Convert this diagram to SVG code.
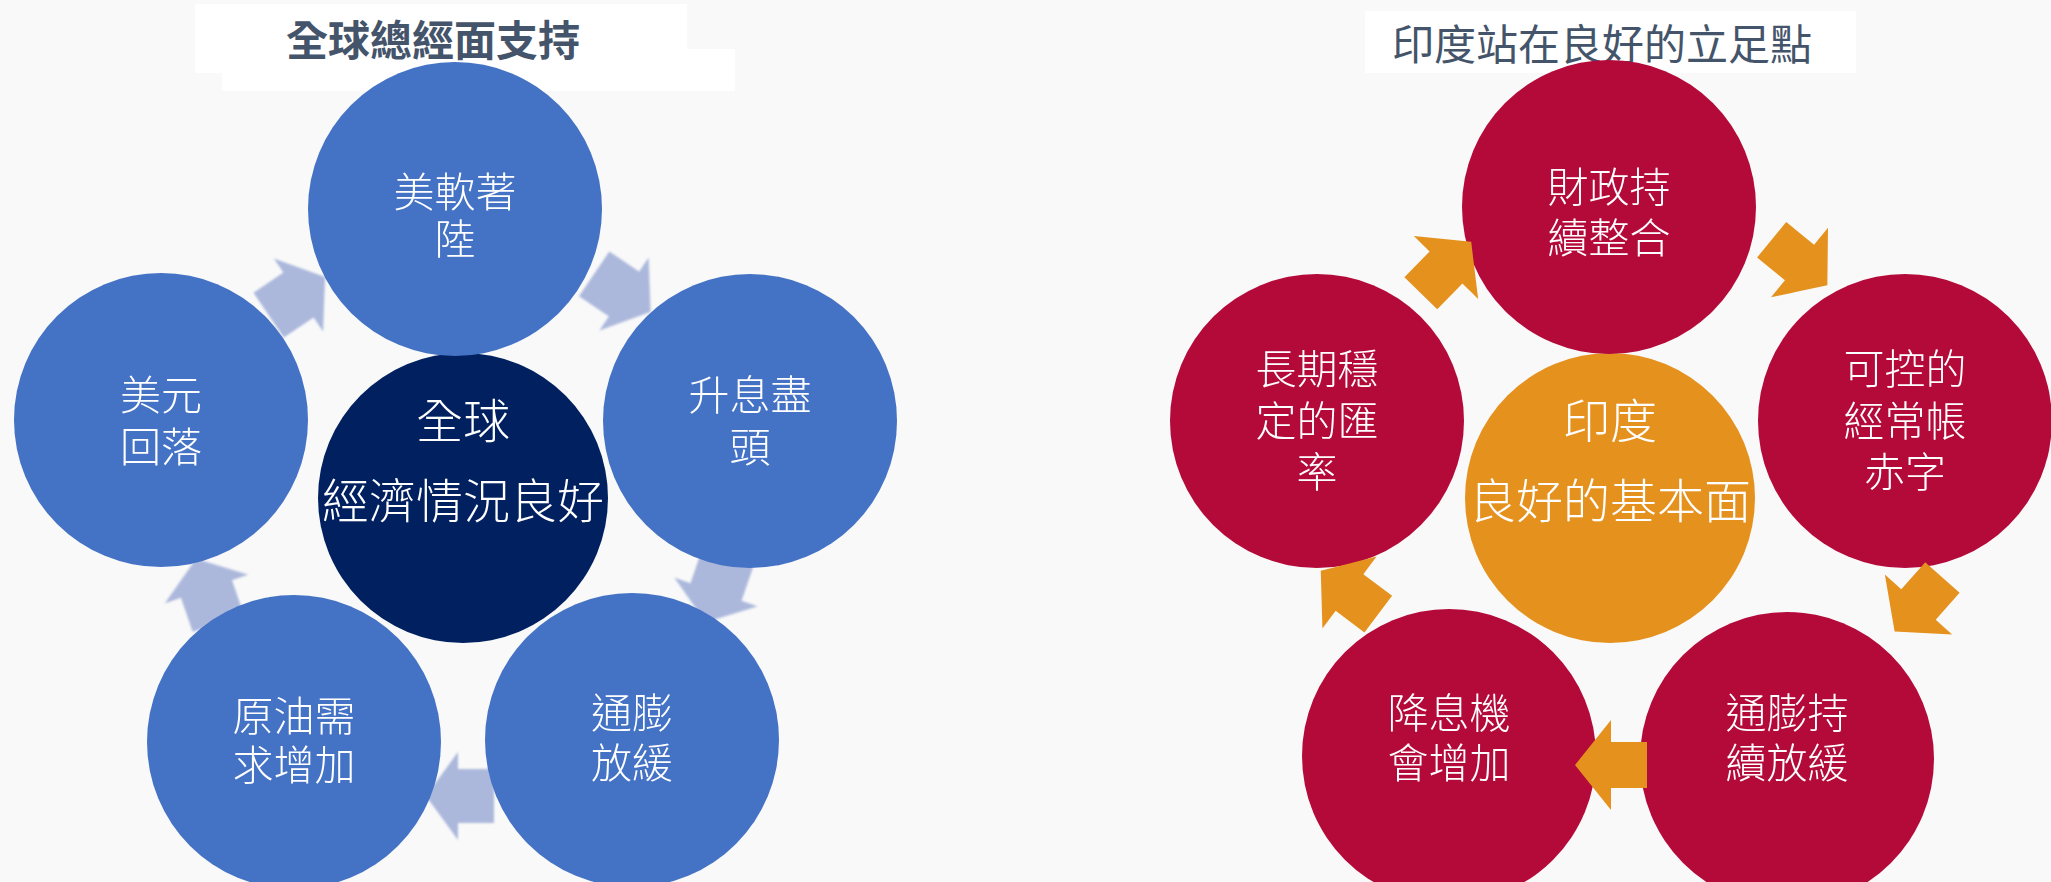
<svg xmlns="http://www.w3.org/2000/svg" width="2051" height="882" viewBox="0 0 2051 882">
<style>
.bg{fill:#F9F9F9}
.tbox{fill:#FFFFFF}
.title{font-family:"Noto Sans CJK TC","Noto Sans CJK SC",sans-serif;font-size:42px;fill:#44546A;text-anchor:middle}
.lbl{font-family:"Noto Sans CJK TC","Noto Sans CJK SC",sans-serif;font-size:41px;fill:#FFFFFF;text-anchor:middle;font-weight:300}
.clbl{font-family:"Noto Sans CJK TC","Noto Sans CJK SC",sans-serif;font-size:47px;fill:#FFFFFF;text-anchor:middle;font-weight:300}
.blue{fill:#4472C4}
.navy{fill:#002060}
.red{fill:#B30A3A}
.orange{fill:#E5911E}
.larr{fill:#ABB8DC}
.rarr{fill:#E5911E}
</style>
<defs>
<polygon id="la" points="32,0 0,44 0,27 -36,27 -36,-27 0,-27 0,-44"/>
<polygon id="ra" points="36,0 0,45 0,23 -36,23 -36,-23 0,-23 0,-45"/>
<filter id="soft" x="-20%" y="-20%" width="140%" height="140%"><feGaussianBlur stdDeviation="1.3"/></filter>
</defs>
<rect class="bg" x="0" y="0" width="2051" height="882"/>
<g id="title-left">
<rect class="tbox" x="195" y="4" width="492" height="69"/>
<rect class="tbox" x="222" y="49" width="513" height="42"/>
<text class="title" x="433" y="56" font-weight="700">全球總經面支持</text>
</g>
<g id="title-right">
<rect class="tbox" x="1365" y="11" width="491" height="62"/>
<text class="title" x="1602" y="60">印度站在良好的立足點</text>
</g>
<g id="connectors-left" class="larr" filter="url(#soft)">
<use href="#la" transform="translate(298.5,295) rotate(-34)"/>
<use href="#la" transform="translate(624,294) rotate(34)"/>
<use href="#la" transform="translate(716,592) rotate(109)"/>
<use href="#la" transform="translate(458,796) rotate(180)"/>
<use href="#la" transform="translate(206.5,589) rotate(-109)"/>
</g>
<g id="node-global-center">
<circle class="navy" cx="463" cy="498" r="145"/>
<text class="clbl" x="463" y="438">全球</text>
<text class="clbl" x="463" y="518">經濟情況良好</text>
</g>
<g id="node-soft-landing">
<circle class="blue" cx="455" cy="209" r="147"/>
<text class="lbl" x="455" y="207">美軟著</text>
<text class="lbl" x="455" y="254">陸</text>
</g>
<g id="node-rate-peak">
<circle class="blue" cx="750" cy="421" r="147"/>
<text class="lbl" x="750" y="410">升息盡</text>
<text class="lbl" x="750" y="462">頭</text>
</g>
<g id="node-inflation-ease">
<circle class="blue" cx="632" cy="740" r="147"/>
<text class="lbl" x="632" y="728">通膨</text>
<text class="lbl" x="632" y="778">放緩</text>
</g>
<g id="node-oil-demand">
<circle class="blue" cx="294" cy="742" r="147"/>
<text class="lbl" x="294" y="731">原油需</text>
<text class="lbl" x="294" y="780">求增加</text>
</g>
<g id="node-usd-fall">
<circle class="blue" cx="161" cy="420" r="147"/>
<text class="lbl" x="161" y="410">美元</text>
<text class="lbl" x="161" y="462">回落</text>
</g>
<g id="node-india-center">
<circle class="orange" cx="1610" cy="498" r="145"/>
<text class="clbl" x="1610" y="438">印度</text>
<text class="clbl" x="1610" y="518">良好的基本面</text>
</g>
<g id="node-fiscal">
<circle class="red" cx="1609" cy="207" r="147"/>
<text class="lbl" x="1609" y="202">財政持</text>
<text class="lbl" x="1609" y="253">續整合</text>
</g>
<g id="node-current-account">
<circle class="red" cx="1905" cy="421" r="147"/>
<text class="lbl" x="1905" y="384">可控的</text>
<text class="lbl" x="1905" y="436">經常帳</text>
<text class="lbl" x="1905" y="487">赤字</text>
</g>
<g id="node-inflation-india">
<circle class="red" cx="1787" cy="759" r="147"/>
<text class="lbl" x="1787" y="728">通膨持</text>
<text class="lbl" x="1787" y="778">續放緩</text>
</g>
<g id="node-rate-cut">
<circle class="red" cx="1449" cy="756" r="147"/>
<text class="lbl" x="1449" y="728">降息機</text>
<text class="lbl" x="1449" y="778">會增加</text>
</g>
<g id="node-fx-stable">
<circle class="red" cx="1317" cy="421" r="147"/>
<text class="lbl" x="1317" y="384">長期穩</text>
<text class="lbl" x="1317" y="436">定的匯</text>
<text class="lbl" x="1317" y="487">率</text>
</g>
<g id="connectors-right" class="rarr">
<use href="#ra" transform="translate(1446,267.5) rotate(-45.6)"/>
<use href="#ra" transform="translate(1799.5,262.5) rotate(39.3)"/>
<use href="#ra" transform="translate(1918.5,604.5) rotate(131.6)"/>
<use href="#ra" transform="translate(1611,765) rotate(180)"/>
<use href="#ra" transform="translate(1349.5,592.5) rotate(-143)"/>
</g>
</svg>
